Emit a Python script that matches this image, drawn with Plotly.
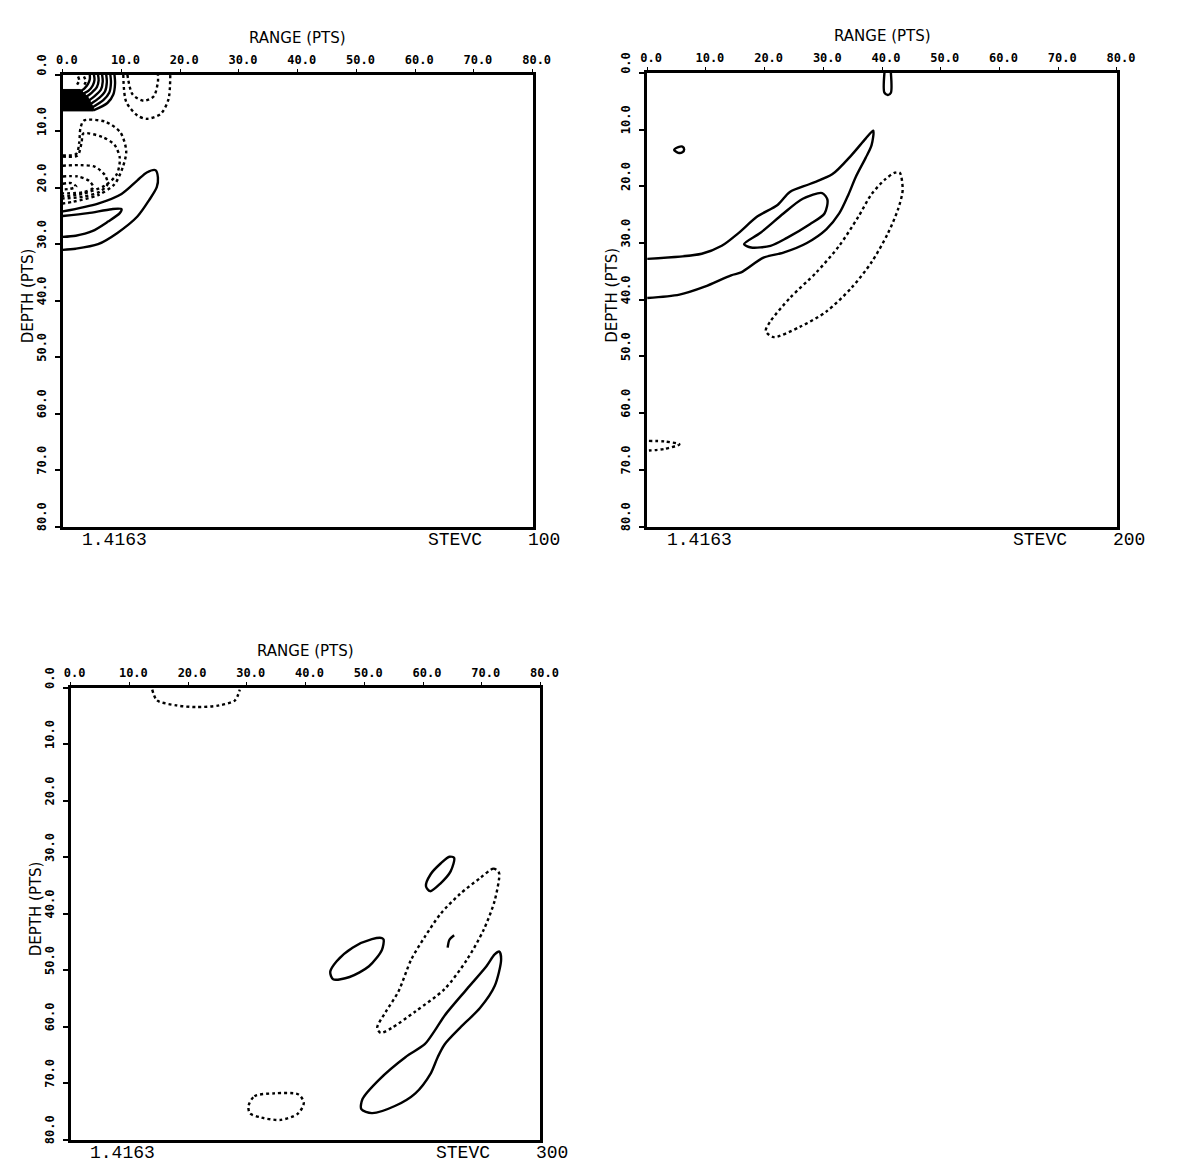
import plotly.graph_objects as go

# ---------------- data (range, depth) ----------------
# Panel 1 (time step 100)
p1_block = [(0, 2.6), (3.0, 2.6), (4.3, 4.0), (5.2, 5.8), (5.2, 6.4), (0, 6.4), (0, 2.6)]
p1_arc1 = [(8.8, 0), (8.9, 1.5), (8.6, 3.5), (7.6, 5.0), (5.2, 6.3)]
p1_arc2 = [(8.1, 0), (8.2, 1.4), (7.9, 3.2), (6.9, 4.5), (5.0, 5.8)]
p1_arc3 = [(7.4, 0), (7.5, 1.3), (7.2, 2.9), (6.2, 4.1), (4.7, 5.2)]
p1_arc4 = [(6.7, 0), (6.8, 1.2), (6.5, 2.6), (5.6, 3.6), (4.4, 4.6)]
p1_arc5 = [(6.0, 0), (6.1, 1.0), (5.8, 2.2), (4.9, 3.2), (4.0, 3.9)]
p1_arc6 = [(5.3, 0), (5.4, 0.9), (5.1, 1.9), (4.4, 2.8), (3.6, 3.3)]
p1_arc7 = [(4.6, 0), (4.6, 0.8), (4.3, 1.6), (3.7, 2.4), (3.2, 2.8)]
p1_dot_arc1 = [(3.6, 0.3), (3.9, 1.2), (3.4, 2.2)]
p1_dot_arc2 = [(2.6, 0.3), (2.8, 1.0), (2.4, 1.8)]
p1_top_outer = [(10.3, 0), (10.8, 4.8), (12.7, 7.2), (14.3, 7.8), (16.7, 6.9), (18.0, 4.3), (18.3, 0)]
p1_top_inner = [(11.0, 0), (11.9, 3.5), (13.8, 4.6), (15.5, 3.8), (16.2, 1.2), (16.2, 0)]
p1_neg_a = [(0, 14.3), (2.3, 14.0), (2.8, 12.0), (3.0, 9.5), (3.6, 8.1), (7.2, 8.3), (9.8, 10.2),
            (10.8, 13.5), (10.2, 16.4), (8.8, 19.4), (6.0, 21.3), (1.7, 22.5), (0, 22.8)]
p1_neg_b = [(0, 14.5), (2.5, 14.3), (3.2, 12.0), (3.5, 10.4), (6.7, 11.0), (8.8, 12.4), (9.7, 14.7),
            (9.2, 17.6), (7.2, 19.6), (3.3, 21.1), (0, 21.5)]
p1_neg_c = [(0, 16.1), (3.0, 16.0), (5.5, 16.3), (7.2, 17.8), (7.6, 19.4), (6.3, 20.7), (3.5, 21.6), (0, 21.9)]
p1_neg_d = [(0, 18.0), (2.5, 18.0), (4.5, 18.8), (5.2, 20.0), (3.5, 20.8), (0, 21.0)]
p1_neg_e = [(0, 19.3), (1.5, 19.2), (2.3, 19.8), (1.2, 20.2), (0, 20.3)]
p1_pos_outer = [(0, 24.2), (6.0, 22.8), (10.0, 21.1), (12.7, 18.7), (14.3, 17.3), (15.8, 16.9), (16.2, 18.2),
                (16.0, 19.9), (14.7, 22.2), (12.7, 25.1), (9.3, 28.0), (6.0, 30.0), (2.2, 30.8), (0, 31.0)]
p1_pos_inner = [(0, 25.0), (4.3, 24.5), (8.3, 23.8), (10.0, 23.8), (9.7, 24.5), (7.7, 26.0), (5.0, 27.7),
                (2.2, 28.5), (0, 28.7)]

# Panel 2 (time step 200)
p2_pos_outer = [(0, 32.8), (9.3, 31.9), (12.7, 30.5), (15.5, 28.3), (18.8, 25.3), (22.2, 23.3), (24.3, 21.0),
                (27.7, 19.6), (31.5, 17.9), (34.8, 14.5), (37.2, 11.6), (38.5, 10.2), (38.2, 12.8),
                (37.2, 15.0), (35.5, 18.4), (34.3, 21.4), (32.7, 24.8), (30.5, 27.6), (27.2, 30.0),
                (23.2, 31.7), (19.8, 32.6), (16.0, 35.2), (14.3, 35.7), (9.8, 37.7), (5.5, 39.1), (0, 39.7)]
p2_pos_inner = [(16.5, 30.2), (19.3, 28.2), (23.2, 24.8), (26.5, 22.2), (29.8, 21.2), (30.7, 22.4),
                (30.2, 24.8), (27.7, 26.7), (23.8, 29.1), (21.0, 30.5), (17.7, 30.8), (16.5, 30.2)]
p2_pos_small = [(4.6, 13.6), (5.3, 13.1), (6.0, 13.0), (6.3, 13.5), (6.0, 14.0), (5.3, 14.1), (4.6, 13.6)]
p2_pos_hook = [(40.4, 0), (40.4, 3.5), (41.0, 3.9), (41.5, 3.5), (41.5, 0)]
p2_neg_loop = [(43.0, 17.6), (43.5, 20.7), (42.7, 24.1), (41.0, 28.3), (38.2, 33.4), (34.8, 37.9),
               (30.5, 42.1), (26.0, 44.8), (21.5, 46.6), (20.2, 45.5), (21.0, 43.8), (24.3, 39.7),
               (28.8, 35.2), (32.7, 30.5), (36.0, 25.3), (38.2, 21.4), (40.5, 18.8), (42.2, 17.6), (43.0, 17.6)]
p2_neg_wedge = [(0.3, 64.9), (3.0, 65.0), (5.5, 65.5), (3.0, 66.3), (0.3, 66.6)]

# Panel 3 (time step 300)
p3_neg_top = [(13.9, 0.3), (14.7, 2.2), (18.0, 3.1), (21.4, 3.4), (25.3, 3.1), (28.0, 2.2), (28.8, 0.3)]
p3_pos_small = [(65.3, 30.1), (64.7, 32.5), (63.0, 34.6), (61.2, 36.0), (60.5, 35.1), (61.3, 33.0),
                (63.0, 31.1), (64.5, 29.9), (65.3, 30.1)]
p3_pos_mid = [(53.3, 44.6), (53.0, 46.4), (50.8, 49.3), (47.5, 51.2), (44.7, 51.6), (44.2, 50.3),
              (45.3, 48.4), (48.0, 46.0), (51.3, 44.5), (53.0, 44.3), (53.3, 44.6)]
p3_neg_loop = [(72.8, 32.5), (72.0, 32.0), (69.7, 33.7), (66.3, 36.5), (63.0, 40.0), (60.3, 44.1),
               (58.0, 48.1), (55.8, 53.8), (53.7, 57.3), (52.2, 60.2), (52.8, 61.1), (54.7, 60.2),
               (58.7, 57.3), (63.7, 53.3), (67.5, 48.1), (70.3, 42.9), (72.2, 37.7), (73.0, 33.0), (72.8, 32.5)]
p3_pos_mark = [(65.3, 43.8), (64.5, 44.6), (64.2, 46.0)]
p3_pos_long = [(73.0, 46.7), (73.3, 48.1), (72.2, 52.8), (69.7, 56.7), (66.3, 60.2), (63.7, 63.1),
               (62.5, 65.4), (61.3, 68.3), (58.7, 71.8), (55.3, 74.0), (51.3, 75.3), (49.5, 74.6),
               (49.7, 72.8), (52.5, 69.4), (57.0, 65.4), (60.3, 63.1), (62.0, 60.7), (63.7, 58.0),
               (67.5, 53.3), (70.8, 49.3), (72.2, 47.2), (73.0, 46.7)]
p3_neg_small = [(30.3, 74.0), (31.3, 72.3), (34.7, 71.8), (38.8, 72.0), (39.7, 73.5), (38.7, 75.4),
                (35.8, 76.5), (32.5, 76.1), (30.5, 75.3), (30.3, 74.0)]

tick_vals = [0, 10, 20, 30, 40, 50, 60, 70, 80]
tick_text = ["0.0", "10.0", "20.0", "30.0", "40.0", "50.0", "60.0", "70.0", "80.0"]
step_labels = ["100", "200", "300"]
scale_label = "1.4163"
run_label = "STEVC"

# ---------------- figure ----------------
W, H = 1181, 1173


def px(p):
    return p / W


def py(p):
    return 1 - p / H


solid = [
    (1, [p1_arc1, p1_arc2, p1_arc3, p1_arc4, p1_arc5, p1_arc6, p1_arc7, p1_pos_outer, p1_pos_inner]),
    (2, [p2_pos_outer, p2_pos_inner, p2_pos_small, p2_pos_hook]),
    (3, [p3_pos_small, p3_pos_mid, p3_pos_mark, p3_pos_long]),
]
dotted = [
    (1, [p1_dot_arc1, p1_dot_arc2, p1_top_outer, p1_top_inner, p1_neg_a, p1_neg_b, p1_neg_c, p1_neg_d, p1_neg_e]),
    (2, [p2_neg_loop, p2_neg_wedge]),
    (3, [p3_neg_top, p3_neg_loop, p3_neg_small]),
]

fig = go.Figure()


def axn(i):
    return ("x" if i == 1 else f"x{i}"), ("y" if i == 1 else f"y{i}")


for i, curves in solid:
    xa, ya = axn(i)
    for c in curves:
        fig.add_trace(go.Scatter(x=[p[0] for p in c], y=[p[1] for p in c], mode="lines",
                                 line=dict(color="black", width=2.4, shape="spline", smoothing=0.8),
                                 xaxis=xa, yaxis=ya, showlegend=False, hoverinfo="skip"))
for i, curves in dotted:
    xa, ya = axn(i)
    for c in curves:
        fig.add_trace(go.Scatter(x=[p[0] for p in c], y=[p[1] for p in c], mode="lines",
                                 line=dict(color="black", width=2.4, dash="dot", shape="spline", smoothing=0.8),
                                 xaxis=xa, yaxis=ya, showlegend=False, hoverinfo="skip"))
fig.add_trace(go.Scatter(x=[p[0] for p in p1_block], y=[p[1] for p in p1_block], mode="lines",
                         fill="toself", fillcolor="black", line=dict(color="black", width=1),
                         xaxis="x", yaxis="y", showlegend=False, hoverinfo="skip"))

# panel frames in page pixels: (left, right, top, bottom)
frames = [(57, 537, 55, 517), (654, 1134, 53, 517), (65, 545, 682, 1144)]

tickfont = dict(family="DejaVu Sans Mono", size=12, color="black", weight="bold")
layout = dict(width=W, height=H, margin=dict(l=0, r=0, t=0, b=0),
              paper_bgcolor="white", plot_bgcolor="white", showlegend=False)
for i, (l, r, t, b) in enumerate(frames, start=1):
    xk = "xaxis" if i == 1 else f"xaxis{i}"
    yk = "yaxis" if i == 1 else f"yaxis{i}"
    ya = "y" if i == 1 else f"y{i}"
    xa = "x" if i == 1 else f"x{i}"
    layout[xk] = dict(domain=[px(l), px(r)], range=[0, 80], side="top", anchor=ya,
                      tickvals=tick_vals, ticktext=tick_text, ticks="outside", ticklen=3,
                      tickwidth=1, tickcolor="black", showline=True, linewidth=2.8, linecolor="black",
                      mirror=True, showgrid=False, zeroline=False, tickfont=tickfont,
                      ticklabelshift=4, fixedrange=True)
    layout[yk] = dict(domain=[py(b), py(t)], range=[80, 0], anchor=xa,
                      tickvals=tick_vals, ticktext=tick_text, ticks="outside", ticklen=5,
                      tickwidth=1.5, tickcolor="black", showline=True, linewidth=2.8, linecolor="black",
                      mirror=True, showgrid=False, zeroline=False, tickfont=tickfont, tickangle=-90,
                      ticklabelstandoff=4, ticklabelshift=8, fixedrange=True)
fig.update_layout(**layout)

ann = []
title_font = dict(family="DejaVu Sans", size=15, color="black")
type_font = dict(family="Liberation Mono", size=18, color="black")
for i, (l, r, t, b) in enumerate(frames):
    cx = (l + r) / 2
    ann.append(dict(text="RANGE (PTS)", x=px(cx), y=py(t - 38), xref="paper", yref="paper",
                    showarrow=False, font=title_font, xanchor="center", yanchor="middle"))
    ann.append(dict(text="DEPTH (PTS)", x=px(l - 36), y=py((t + b) / 2 - 5), xref="paper", yref="paper",
                    showarrow=False, font=title_font, textangle=-90, xanchor="center", yanchor="middle"))
    ann.append(dict(text=scale_label, x=px(l + 53), y=py(b + 14), xref="paper", yref="paper",
                    showarrow=False, font=type_font, xanchor="center", yanchor="middle"))
    ann.append(dict(text=run_label, x=px(r - 79), y=py(b + 14), xref="paper", yref="paper",
                    showarrow=False, font=type_font, xanchor="center", yanchor="middle"))
    ann.append(dict(text=step_labels[i], x=px(r + 12), y=py(b + 14), xref="paper", yref="paper",
                    showarrow=False, font=type_font, xanchor="center", yanchor="middle"))
fig.update_layout(annotations=ann)

fig.write_html(
    "out.html",
    config={"displayModeBar": False},
    post_script="document.documentElement.style.overflow='hidden';"
                "document.body.style.margin='0';document.body.style.overflow='hidden';",
)
